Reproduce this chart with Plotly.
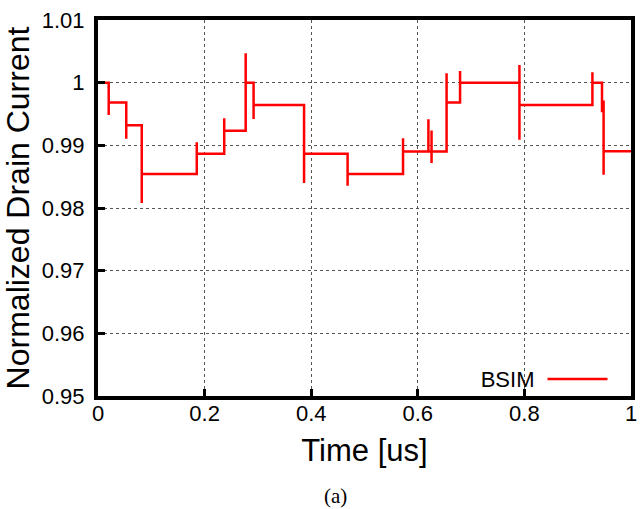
import plotly.graph_objects as go

# ---- data ----
start_level = 1.0
event_t = [0.0201, 0.0530, 0.0821, 0.1853, 0.2368, 0.2771, 0.2919, 0.3866, 0.4683,
           0.5723, 0.6199, 0.6258, 0.6540, 0.6793, 0.7907, 0.9276, 0.9456, 0.9486]
event_level = [0.99682, 0.99322, 0.98541, 0.98865, 0.99231, 1.0, 0.99645, 0.98865, 0.98541,
               0.98901, 0.98901, 0.98901, 0.99682, 1.0, 0.99645, 1.0, 0.99697, 0.98904]
spike_hi = [None, None, None, 0.99051, 0.99433, 1.00468, None, None, None,
            0.99115, 0.99417, 0.99236, 1.0015, 1.00186, 1.00282, 1.00166, None, None]
spike_lo = [0.99486, 0.99104, 0.98080, None, None, None, 0.99422, 0.98398, 0.98355,
            None, None, 0.98717, None, None, 0.99088, None, 0.99529, 0.98530]
t_end = 1.0

series_name = "BSIM"
x_ticks = [0, 0.2, 0.4, 0.6, 0.8, 1]
x_tick_text = ["0", "0.2", "0.4", "0.6", "0.8", "1"]
y_ticks = [0.95, 0.96, 0.97, 0.98, 0.99, 1.0, 1.01]
y_tick_text = ["0.95", "0.96", "0.97", "0.98", "0.99", "1", "1.01"]

# ---- build step path with transition spikes ----
xs, ys = [0.0], [start_level]
prev = start_level
for t, lvl, hi, lo in zip(event_t, event_level, spike_hi, spike_lo):
    xs.append(t); ys.append(prev)
    if hi is not None:
        xs.append(t); ys.append(hi)
    if lo is not None:
        xs.append(t); ys.append(lo)
    xs.append(t); ys.append(lvl)
    prev = lvl
xs.append(t_end); ys.append(prev)

RED = "#ff0000"
FONT = "Liberation Sans, Arial, Helvetica, sans-serif"

fig = go.Figure()
fig.add_trace(go.Scatter(x=xs, y=ys, mode="lines", name="",
                         line=dict(color=RED, width=2.5), showlegend=True))

axis_common = dict(
    showline=True, linecolor="black", linewidth=4, mirror=True,
    ticks="inside", ticklen=7, tickwidth=3, tickcolor="black",
    showgrid=True, gridcolor="#555", gridwidth=1, griddash="dot",
    zeroline=False, tickfont=dict(family=FONT, size=22, color="black"),
    ticklabeloverflow="allow",
)

fig.update_layout(
    width=641, height=509,
    margin=dict(l=98, r=4, t=20, b=113),
    paper_bgcolor="white", plot_bgcolor="white",
    font=dict(family=FONT, color="black"),
    xaxis=dict(range=[0, 1], tickvals=x_ticks, ticktext=x_tick_text,
               title=dict(text="Time [us]", font=dict(size=31), standoff=15),
               ticklabelstandoff=-5, **axis_common),
    yaxis=dict(range=[0.95, 1.01], tickvals=y_ticks, ticktext=y_tick_text,
               title=dict(text="Normalized Drain Current", font=dict(size=32), standoff=4),
               ticklabelstandoff=5, **axis_common),
    legend=dict(x=0.975, y=0.045, xanchor="right", yanchor="middle",
                bgcolor="rgba(0,0,0,0)", borderwidth=0,
                title=dict(text=series_name, side="left", font=dict(size=22)),
                font=dict(size=22), itemwidth=60),
    showlegend=True,
    annotations=[dict(text="(a)", xref="paper", yref="paper", x=0.445, y=-0.265,
                      xanchor="center", yanchor="middle", showarrow=False,
                      font=dict(family="Liberation Serif, DejaVu Serif, serif", size=21))],
)

fig.write_html("out.html", config={"displayModeBar": False},
               post_script="document.body.style.margin='0';")
